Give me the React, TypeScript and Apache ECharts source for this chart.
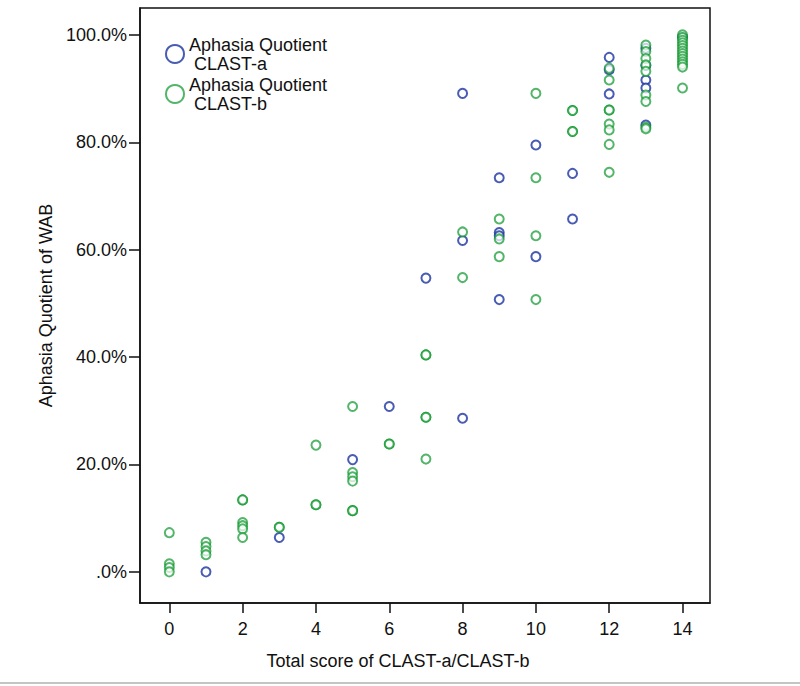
import React, { useEffect, useRef } from "react";
import * as echarts from "echarts";

// CLAST-a : [total score, aphasia quotient %]
const clastA: [number, number][] = [
  [1, 0.0],
  [3, 6.4],
  [5, 20.9],
  [6, 30.8],
  [7, 54.7],
  [8, 89.1], [8, 61.7], [8, 28.6],
  [9, 73.4], [9, 63.2], [9, 62.6], [9, 50.7],
  [10, 79.5], [10, 58.7],
  [11, 74.2], [11, 65.7],
  [12, 95.8], [12, 93.5], [12, 89.0],
  [13, 97.5], [13, 94.3], [13, 91.6], [13, 90.1], [13, 83.2],
  [14, 99.6],
];

// CLAST-b : [total score, aphasia quotient %]
const clastB: [number, number][] = [
  [0, 7.3], [0, 1.5], [0, 0.8], [0, 0.0],
  [1, 5.5], [1, 4.7], [1, 3.9], [1, 3.2],
  [2, 13.4], [2, 13.4], [2, 9.2], [2, 8.6], [2, 8.0], [2, 6.4],
  [3, 8.3], [3, 8.3],
  [4, 23.6], [4, 12.5], [4, 12.5],
  [5, 30.8], [5, 18.5], [5, 17.7], [5, 16.9], [5, 11.4], [5, 11.4],
  [6, 23.8], [6, 23.8],
  [7, 40.4], [7, 40.4], [7, 28.8], [7, 28.8], [7, 21.0],
  [8, 63.3], [8, 54.8],
  [9, 65.7], [9, 62.0], [9, 58.7],
  [10, 89.1], [10, 73.4], [10, 62.6], [10, 50.7],
  [11, 85.9], [11, 85.9], [11, 82.0], [11, 82.0],
  [12, 93.8], [12, 91.6], [12, 86.0], [12, 86.0], [12, 83.4], [12, 82.3], [12, 79.6], [12, 74.4],
  [13, 98.1], [13, 96.9], [13, 95.6], [13, 94.4], [13, 93.2], [13, 88.8], [13, 87.6], [13, 82.8], [13, 82.5],
  [14, 100.0], [14, 99.5], [14, 99.0], [14, 98.5], [14, 98.0], [14, 97.5], [14, 97.0], [14, 96.5],
  [14, 96.0], [14, 95.5], [14, 95.0], [14, 94.5], [14, 94.0], [14, 90.1],
];

const xTicks = [0, 2, 4, 6, 8, 10, 12, 14];
const yTicks = [0, 20, 40, 60, 80, 100];

const legendNames: Record<string, string> = {
  "CLAST-a": "Aphasia Quotient\n CLAST-a",
  "CLAST-b": "Aphasia Quotient\n CLAST-b",
};

const FONT = "'Liberation Sans', Arial, sans-serif";

export default function App() {
  const ref = useRef<HTMLDivElement>(null);

  useEffect(() => {
    if (!ref.current) return;
    const chart = echarts.init(ref.current, undefined, { renderer: "svg" });
    chart.setOption({
      animation: false,
      backgroundColor: "#ffffff",
      textStyle: { fontFamily: FONT },
      grid: {
        left: 140,
        right: 90,
        top: 8,
        bottom: 83,
        show: true,
        borderColor: "#111",
        borderWidth: 1.5,
        backgroundColor: "transparent",
      },
      legend: {
        orient: "vertical",
        left: 160,
        top: 30,
        itemWidth: 18,
        itemHeight: 18,
        itemGap: 2,
        icon: "emptyCircle",
        formatter: (n: string) => legendNames[n] || n,
        textStyle: { fontSize: 18, lineHeight: 19, color: "#111", fontFamily: FONT },
        data: ["CLAST-a", "CLAST-b"],
      },
      xAxis: {
        type: "value",
        min: -0.8,
        max: 14.75,
        name: "Total score of CLAST-a/CLAST-b",
        nameLocation: "middle",
        nameGap: 49,
        nameTextStyle: { fontSize: 18, color: "#111", fontFamily: FONT, padding: [0, 54, 0, 0] },
        axisLine: { show: true, onZero: false, lineStyle: { color: "#111", width: 1.5 } },
        axisTick: { show: true, length: 10, customValues: xTicks, lineStyle: { color: "#111", width: 1.5 } },
        axisLabel: { customValues: xTicks, fontSize: 18, color: "#111", margin: 17, fontFamily: FONT },
        splitLine: { show: false },
      },
      yAxis: {
        type: "value",
        min: -5.8,
        max: 105,
        name: "Aphasia Quotient of WAB",
        nameLocation: "middle",
        nameGap: 84,
        nameTextStyle: { fontSize: 18, color: "#111", fontFamily: FONT },
        axisLine: { show: true, onZero: false, lineStyle: { color: "#111", width: 1.5 } },
        axisTick: { show: true, length: 11, customValues: yTicks, lineStyle: { color: "#111", width: 1.5 } },
        axisLabel: {
          customValues: yTicks,
          fontSize: 18,
          color: "#111",
          margin: 13,
          fontFamily: FONT,
          formatter: (v: number) => (v === 0 ? ".0%" : v.toFixed(1) + "%"),
        },
        splitLine: { show: false },
      },
      series: [
        {
          name: "CLAST-a",
          type: "scatter",
          symbol: "emptyCircle",
          symbolSize: 9,
          data: clastA,
          itemStyle: { color: "#1a33a0", borderColor: "#1a33a0", borderWidth: 1.4, opacity: 0.8 },
          emphasis: { disabled: true },
        },
        {
          name: "CLAST-b",
          type: "scatter",
          symbol: "emptyCircle",
          symbolSize: 9,
          data: clastB,
          itemStyle: { color: "#0a962a", borderColor: "#0a962a", borderWidth: 1.4, opacity: 0.7 },
          emphasis: { disabled: true },
        },
      ],
      graphic: [
        {
          type: "line",
          shape: { x1: 0, y1: 683, x2: 800, y2: 683 },
          style: { stroke: "#b0b0b0", lineWidth: 1.5 },
        },
      ],
    });
    return () => chart.dispose();
  }, []);

  return (
    <div
      ref={ref}
      style={{ position: "fixed", left: 0, top: 0, width: 800, height: 686, background: "#fff" }}
    />
  );
}
